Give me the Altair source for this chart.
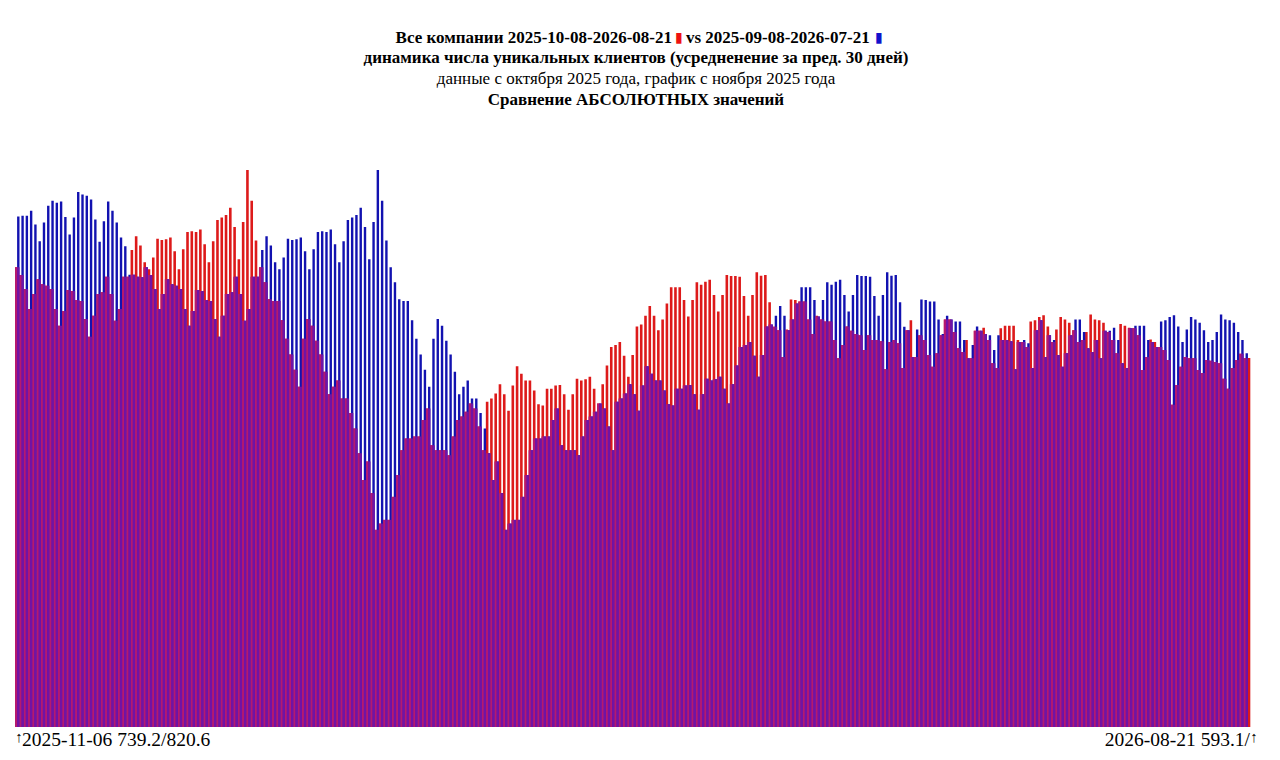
import altair as alt
import pandas as pd

# 2025-11-06 .. 2026-08-21, one bar pair per day
dates = pd.date_range("2025-11-06", "2026-08-21", freq="D").strftime("%Y-%m-%d").tolist()

# current period (red), unique clients, 30-day average
current = [
    739.2, 726.7, 704, 672, 696, 720, 712, 709.5, 704, 672,
    645, 669, 702.6, 701, 686.5, 685, 656, 627.5, 661, 696,
    699, 724, 696, 653, 672, 724, 724, 767, 789, 774,
    747, 736, 755, 785, 783, 784, 787, 765, 736, 768,
    796, 797, 796, 800, 776, 747, 781, 815, 819, 823,
    835, 804, 752, 812, 895.5, 846, 782, 739, 715, 687.6,
    685, 685, 654, 624, 599, 574.5, 547, 624, 656, 645,
    621, 599, 571, 535, 547, 557, 528, 528, 505, 480,
    440, 397, 427, 376, 317, 327, 333, 333, 370, 405,
    445, 464, 464, 467, 467, 493.5, 512, 453, 445, 445,
    445, 437, 467, 493.5, 499, 507, 520, 512, 483, 445,
    523, 528, 536, 551, 535, 508.5, 549, 580, 568, 557,
    557, 541, 519, 517, 544, 544, 549, 550, 535, 510,
    535, 560, 557, 559, 563, 544, 520, 551, 581, 611,
    614, 619, 597, 563, 598, 644, 647, 661, 677, 661,
    638, 655, 681, 707, 707, 707, 686.5, 660, 686.5, 715,
    711, 716, 719, 694.5, 668, 694.5, 726.7, 725, 725, 724,
    693, 661, 694.5, 731, 725.6, 726.7, 683, 643.6, 638, 595,
    639, 687.5, 686.5, 684, 684, 655, 632, 661, 655, 652,
    652, 622, 593, 614, 644, 637, 632, 630, 606, 630,
    622, 622, 620, 575, 619, 622, 617, 577, 638, 654,
    595, 630, 622, 598, 579, 601, 630, 655, 655, 635,
    609, 603, 622, 593, 637, 637, 642, 622, 585, 577,
    641, 645, 645, 645, 622, 619, 611, 652, 654, 659,
    662, 644, 619, 639, 659, 655, 650, 638, 619, 622,
    635, 663, 655, 654, 650, 635, 622, 601, 648, 645,
    642, 641, 630, 574, 595, 623, 619, 611, 606, 590,
    518, 550, 579, 595, 593, 593, 574, 569, 590, 589,
    587, 585, 560, 544, 577, 590, 600, 593, 593.1,
]

# previous period (blue), one month earlier
previous = [
    820.6, 822, 822, 830, 808, 781, 811, 838, 846, 843,
    845, 820, 792, 819, 860, 856, 854, 848, 816, 780,
    813, 845, 830, 811, 787, 773, 727, 727, 724, 723,
    739.2, 726.7, 704, 672, 696, 720, 712, 709.5, 704, 672,
    645, 669, 702.6, 701, 686.5, 685, 656, 627.5, 661, 696,
    699, 724, 696, 653, 672, 724, 724, 767, 789, 774,
    747, 736, 755, 785, 783, 784, 787, 765, 736, 768,
    796, 797, 796, 800, 776, 747, 781, 815, 819, 823,
    835, 804, 752, 812, 895.5, 846, 782, 739, 715, 687.6,
    685, 685, 654, 624, 599, 574.5, 547, 624, 656, 645,
    621, 599, 571, 535, 547, 557, 528, 528, 505, 480,
    440, 397, 427, 376, 317, 327, 333, 333, 370, 405,
    445, 464, 464, 467, 467, 493.5, 512, 453, 445, 445,
    445, 437, 467, 493.5, 499, 507, 520, 512, 483, 445,
    523, 528, 536, 551, 535, 508.5, 549, 580, 568, 557,
    557, 541, 519, 517, 544, 544, 549, 550, 535, 510,
    535, 560, 557, 559, 563, 544, 520, 551, 581, 611,
    614, 619, 597, 563, 598, 644, 647, 661, 677, 661,
    638, 655, 681, 707, 707, 707, 686.5, 660, 686.5, 715,
    711, 716, 719, 694.5, 668, 694.5, 726.7, 725, 725, 724,
    693, 661, 694.5, 731, 725.6, 726.7, 683, 643.6, 638, 595,
    639, 687.5, 686.5, 684, 684, 655, 632, 661, 655, 652,
    652, 622, 593, 614, 644, 637, 632, 630, 606, 630,
    622, 622, 620, 575, 619, 622, 617, 577, 638, 654,
    595, 630, 622, 598, 579, 601, 630, 655, 655, 635,
    609, 603, 622, 593, 637, 637, 642, 622, 585, 577,
    641, 645, 645, 645, 622, 619, 611, 652, 654, 659,
    662, 644, 619, 639, 659, 655, 650, 638, 619, 622,
    635, 663, 655, 654, 650, 635, 622, 601, None,
]

title_lines = [
    "динамика числа уникальных клиентов (усредненение за пред. 30 дней)",
    "данные с октября 2025 года, график с ноября 2025 года",
    "Сравнение АБСОЛЮТНЫХ значений",
]
head_left = "Все компании 2025-10-08-2026-08-21"
head_right = "vs 2025-09-08-2026-07-21"
foot_left = "2025-11-06 739.2/820.6"
foot_right = "2026-08-21 593.1/"

RED = "#dd1a1a"
BLUE = "#1212b0"
MIX_RED = "#b5196f"
MIX_BLUE = "#7013a6"
FONT = "Liberation Serif"

plotWidth = 1237
plotHeight = 557

df = pd.DataFrame({"day": range(len(dates)), "date": dates,
                   "cur": current, "prev": previous})
df["low"] = df[["cur", "prev"]].min(axis=1, skipna=False)

xs = alt.X("day:Q", scale=alt.Scale(domain=[0, len(dates)], nice=False,
                                    zero=False, padding=0), axis=None)
yscale = alt.Scale(domain=[0, 895.5], nice=False, padding=0)

base = alt.Chart(df).encode(x=xs)


def bars(field, color, width, offset):
    return base.mark_bar(width=width, xOffset=offset, color=color).encode(
        y=alt.Y(field + ":Q", scale=yscale, axis=None)
    )


red_bars = bars("cur", RED, 2.6, 1.3)
blue_bars = bars("prev", BLUE, 2.4, 3.3)
mix_red = bars("low", MIX_RED, 2.6, 1.3)
mix_blue = bars("low", MIX_BLUE, 2.4, 3.3)


def label(text, x, y, size=17, weight="normal", align="center", color="black"):
    return alt.Chart(pd.DataFrame({"t": [text]})).mark_text(
        font=FONT, fontSize=size, fontWeight=weight, align=align,
        baseline="middle", color=color
    ).encode(x=alt.value(x), y=alt.value(y), text="t:N")


texts = [
    label(head_left, 657, -132, weight="bold", align="right"),
    label("▮", 664, -132, size=14, color="#ee1111"),
    label(head_right, 671, -132, weight="bold", align="left"),
    label("▮", 864, -132, size=14, color="#1111cc"),
    label(title_lines[0], 621, -112, weight="bold"),
    label(title_lines[1], 621, -91),
    label(title_lines[2], 621, -70, weight="bold"),
    label("↑", 4, 567, size=15, weight="bold"),
    label(foot_left, 7, 570, size=19.5, align="left"),
    label(foot_right, 1235, 570, size=19.5, align="right"),
    label("↑", 1239, 567, size=15, weight="bold"),
]

chart = alt.layer(red_bars, blue_bars, mix_red, mix_blue, *texts).properties(
    width=plotWidth,
    height=plotHeight,
    autosize=alt.AutoSizeParams(type="none"),
    padding={"left": 7, "top": 162, "right": 12, "bottom": 30},
).configure_view(stroke=None)

chart.save("out.html", embed_options={"renderer": "svg", "actions": False})
